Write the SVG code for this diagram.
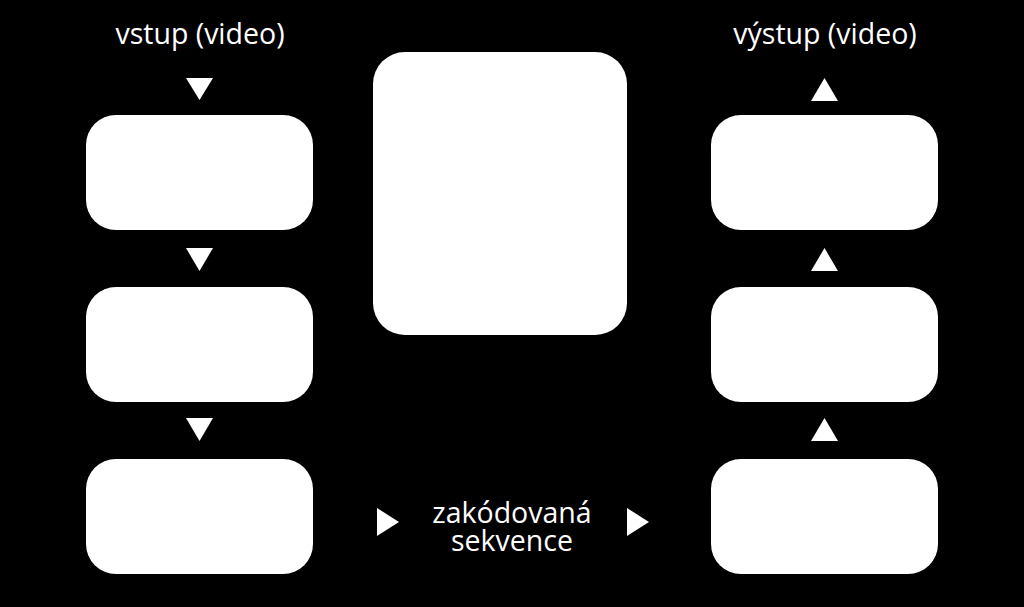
<svg xmlns="http://www.w3.org/2000/svg" width="1024" height="607" viewBox="0 0 1024 607">
<style>
.box{fill:#fff}
.arr{fill:#fff}
.lbl{fill:#fff;font-family:"Open Sans","Noto Sans",sans-serif;font-size:28.5px;text-anchor:middle}
</style>
<rect x="0" y="0" width="1024" height="607" fill="#000"/>
<g id="nodes">
<g id="in1"><rect class="box" x="86" y="115" width="227" height="115" rx="30"/></g>
<g id="in2"><rect class="box" x="86" y="287" width="227" height="115" rx="30"/></g>
<g id="in3"><rect class="box" x="86" y="459" width="227" height="115" rx="30"/></g>
<g id="center"><rect class="box" x="373" y="52" width="254" height="283" rx="32"/></g>
<g id="out1"><rect class="box" x="711" y="115" width="227" height="115" rx="30"/></g>
<g id="out2"><rect class="box" x="711" y="287" width="227" height="115" rx="30"/></g>
<g id="out3"><rect class="box" x="711" y="459" width="227" height="115" rx="30"/></g>
<g id="label-in"><text class="lbl" x="200" y="44">vstup (video)</text></g>
<g id="label-out"><text class="lbl" x="825" y="44">výstup (video)</text></g>
<g id="label-seq"><text class="lbl" x="512" y="523"><tspan x="512" y="523">zakódovaná</tspan><tspan x="512" y="551">sekvence</tspan></text></g>
</g>
<g id="connectors">
<polygon class="arr" points="186,78 213,78 199.5,100"/>
<polygon class="arr" points="186,248 213,248 199.5,271"/>
<polygon class="arr" points="186,418 213,418 199.5,441"/>
<polygon class="arr" points="811,101 838,101 824.5,78"/>
<polygon class="arr" points="811,271 838,271 824.5,248"/>
<polygon class="arr" points="811,441 838,441 824.5,418"/>
<polygon class="arr" points="377,508 377,536 399,522"/>
<polygon class="arr" points="627,508 627,536 649,522"/>
</g>
</svg>
